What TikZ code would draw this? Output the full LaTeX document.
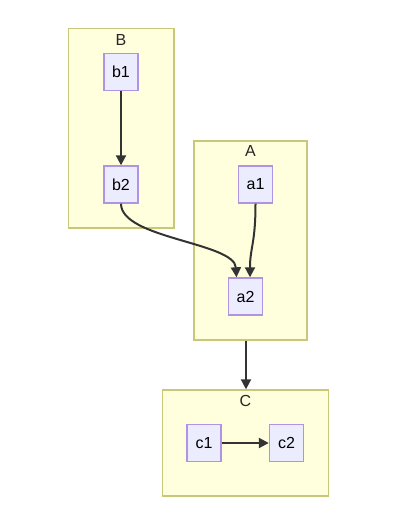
\documentclass[tikz,border=0pt]{standalone}
\usepackage{fontspec}
\setmainfont{Liberation Sans}
\usetikzlibrary{arrows.meta,positioning,calc}
\definecolor{clusterfill}{HTML}{FFFFDE}
\definecolor{clusterline}{HTML}{C8C878}
\definecolor{nodefill}{HTML}{ECECFF}
\definecolor{nodeline}{HTML}{AE94E2}
\definecolor{edgecol}{HTML}{333333}

\begin{document}
\begin{tikzpicture}[
    x=1pt, y=-1pt,
    cluster/.style={rectangle, draw=clusterline, fill=clusterfill, line width=1.4pt},
    item/.style={rectangle, draw=nodeline, fill=nodefill, line width=1.4pt, minimum width=34pt, minimum height=37pt, inner sep=0pt, font=\fontsize{16}{19}\selectfont},
    title/.style={font=\fontsize{16}{19}\selectfont, color=black!85},
    arrow/.style={line width=2pt, draw=edgecol, -{Triangle[length=10pt,width=10pt]}}
]
\useasboundingbox (0,0) rectangle (402,529);

% Subgraph B
\node[cluster, minimum width=105.5pt, minimum height=199.5pt] (B) at (121.25,128.25) {};
\node[title] (B_title) at (121,40) {B};
\node[item] (b1) at (121,72) {b1};
\node[item] (b2) at (121,184.5) {b2};

% Subgraph A
\node[cluster, minimum width=113pt, minimum height=199pt] (A) at (250.5,240.5) {};
\node[title] (A_title) at (250.5,151) {A};
\node[item] (a1) at (255.5,184.5) {a1};
\node[item] (a2) at (245.5,296.5) {a2};

% Subgraph C
\node[cluster, minimum width=165.5pt, minimum height=106pt] (C) at (245.5,443) {};
\node[title] (C_title) at (245.5,401) {C};
\node[item] (c1) at (204,443) {c1};
\node[item] (c2) at (286.5,443) {c2};

% Edges
\draw[arrow] (b1) -- (b2);
\draw[arrow] (b2.south) .. controls ($(b2.south)+(0,35)$) and ($([xshift=-9pt]a2.north)+(-2,-35)$) .. ([xshift=-9pt]a2.north);
\draw[arrow] (a1.south) .. controls ($(a1.south)+(0,40)$) and ($([xshift=4.5pt]a2.north)+(0,-30)$) .. ([xshift=4.5pt]a2.north);
\draw[arrow] ([xshift=-4.5pt]A.south) -- ([xshift=-4.5pt]A.south |- C.north);
\draw[arrow] (c1) -- (c2);

\end{tikzpicture}
\end{document}
